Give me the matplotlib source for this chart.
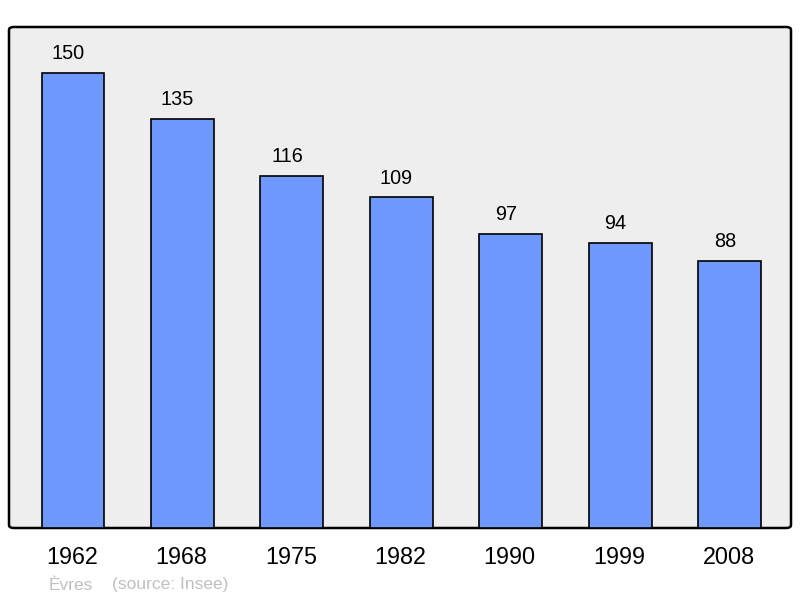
import matplotlib.pyplot as plt
from matplotlib.patches import FancyBboxPatch

years = ['1962', '1968', '1975', '1982', '1990', '1999', '2008']
population = [150, 135, 116, 109, 97, 94, 88]

plt.rcParams['font.family'] = ['Liberation Sans', 'DejaVu Sans']

fig = plt.figure(figsize=(8, 5.98), dpi=100)
ax = fig.add_axes([9/800, 70/598, 782/800, 501/598])
ax.set_facecolor('none')

# rounded frame
frame = FancyBboxPatch((0, 0), 1, 1, boxstyle='round,pad=0,rounding_size=0.006',
                       transform=ax.transAxes, facecolor='#eeeeee',
                       edgecolor='black', linewidth=1.8, zorder=0, clip_on=False)
ax.add_patch(frame)

xs = range(len(years))
ax.bar(xs, population, width=0.575, color='#7099ff', edgecolor='black',
       linewidth=1.2, zorder=2)
for x, v in zip(xs, population):
    ax.text(x - 0.045, v + 6.4, str(v), ha='center', va='center', fontsize=14.3, zorder=3)

ax.set_xlim(-0.585, 6.56)
ax.set_ylim(0, 165.2)
for s in ax.spines.values():
    s.set_visible(False)
ax.set_yticks([])
ax.set_xticks([x - 0.01 for x in xs])
ax.set_xticklabels(years, fontsize=16.8)
ax.tick_params(axis='x', length=0, pad=13)

fig.text(49/800, 1 - 585/598, 'Èvres', color='#c0c0c0', fontsize=12.5, va='center')
fig.text(112/800, 1 - 585/598, '(source: Insee)', color='#c0c0c0', fontsize=12.5, va='center')

fig.savefig('out.png', dpi=100)
